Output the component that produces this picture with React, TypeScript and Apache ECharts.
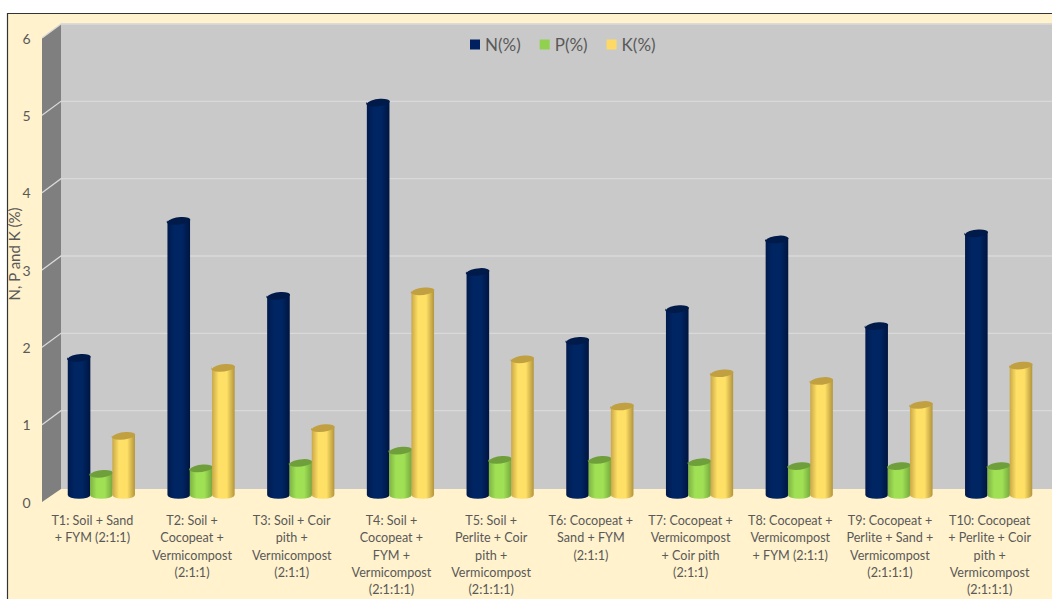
import React, { useEffect, useRef } from "react";
import * as echarts from "echarts";

const categories = [
  "T1: Soil + Sand\n+ FYM (2:1:1)",
  "T2: Soil +\nCocopeat +\nVermicompost\n(2:1:1)",
  "T3: Soil + Coir\npith +\nVermicompost\n(2:1:1)",
  "T4: Soil +\nCocopeat +\nFYM +\nVermicompost\n(2:1:1:1)",
  "T5: Soil +\nPerlite + Coir\npith +\nVermicompost\n(2:1:1:1)",
  "T6: Cocopeat +\nSand + FYM\n(2:1:1)",
  "T7: Cocopeat +\nVermicompost\n+ Coir pith\n(2:1:1)",
  "T8: Cocopeat +\nVermicompost\n+ FYM (2:1:1)",
  "T9: Cocopeat +\nPerlite + Sand +\nVermicompost\n(2:1:1:1)",
  "T10: Cocopeat\n+ Perlite + Coir\npith +\nVermicompost\n(2:1:1:1)",
];
const nValues = [1.78, 3.55, 2.58, 5.08, 2.89, 2.0, 2.41, 3.31, 2.19, 3.39];
const pValues = [0.28, 0.35, 0.42, 0.58, 0.46, 0.46, 0.43, 0.38, 0.38, 0.38];
const kValues = [0.77, 1.65, 0.87, 2.64, 1.76, 1.15, 1.58, 1.48, 1.17, 1.68];
const yTicks = [0, 1, 2, 3, 4, 5, 6];

const TEXT = "#595959";
const FONT = "Lato";
const BG = "#FFF2CC";
const DEPTH_X = 19;
const DEPTH_Y = 14;
const FRONT_X = 42;
const BAR_W = 22.6;

type Tone = { edgeL: string; mid: string; edgeR: string; top: string; legend: string };
const tones: Tone[] = [
  { edgeL: "#001a4d", mid: "#002563", edgeR: "#001540", top: "#001a4a", legend: "#002060" },
  { edgeL: "#7fb343", mid: "#a0e055", edgeR: "#76a83e", top: "#6f9f3a", legend: "#92D050" },
  { edgeL: "#c9a847", mid: "#ffe066", edgeR: "#b3953c", top: "#c0a040", legend: "#FFD966" },
];

function cylinder(tone: Tone, offset: number) {
  return (params: any, api: any) => {
    const idx = api.value(0);
    const val = api.value(1);
    const top = api.coord([idx, val]);
    const base = api.coord([idx, 0]);
    const cx = top[0] + offset * 22.3;
    const x0 = cx - BAR_W / 2;
    const x1 = cx + BAR_W / 2;
    const yT = top[1] - DEPTH_Y / 2;
    const yB = base[1] - DEPTH_Y / 2;
    const t = 1.3;
    const rx = BAR_W / 2;
    const ry = 3.8;
    const fill = new echarts.graphic.LinearGradient(0, 0, 1, 0, [
      { offset: 0, color: tone.edgeL },
      { offset: 0.3, color: tone.mid },
      { offset: 0.65, color: tone.mid },
      { offset: 1, color: tone.edgeR },
    ]);
    const ell = (y: number) =>
      `M${x0} ${y + t}A${rx} ${ry} -7 0 1 ${x1} ${y - t}A${rx} ${ry} -7 0 1 ${x0} ${y + t}Z`;
    const body = `M${x0} ${yT + t}L${x0} ${yB}A${rx} ${ry} 0 0 0 ${x1} ${yB}L${x1} ${yT - t}Z`;
    return {
      type: "group",
      children: [
        { type: "path", shape: { pathData: body, layout: "cover", x: x0, y: yT - t, width: BAR_W, height: yB + ry - yT + t }, style: { fill } },
        { type: "path", shape: { pathData: ell(yT) }, style: { fill: tone.top } },
      ],
    };
  };
}

function gridlines(params: any, api: any) {
  const v = api.value(0);
  const y = api.coord([0, v])[1];
  const size = api.getWidth();
  if (v === 0) return null;
  return {
    type: "polyline",
    shape: {
      points: [
        [FRONT_X, y],
        [FRONT_X + DEPTH_X, y - DEPTH_Y],
        [size, y - DEPTH_Y],
      ],
    },
    style: { fill: "none", stroke: "#D9D9D9", lineWidth: 1.3 },
  };
}

export default function App() {
  const ref = useRef<HTMLDivElement>(null);
  useEffect(() => {
    const chart = echarts.init(ref.current!, undefined, { renderer: "svg" });
    const series: any[] = [
      { name: "grid", type: "custom", renderItem: gridlines, data: yTicks.map((v) => [v]), encode: { y: 0 }, silent: true, z: 1 },
    ];
    [
      { name: "N(%)", values: nValues, offset: -1 },
      { name: "P(%)", values: pValues, offset: 0 },
      { name: "K(%)", values: kValues, offset: 1 },
    ].forEach((s, i) => {
      series.push({
        name: s.name,
        type: "custom",
        renderItem: cylinder(tones[i], s.offset),
        itemStyle: { color: tones[i].legend },
        data: s.values.map((v, k) => [k, v]),
        encode: { x: 0, y: 1 },
        z: 3 + i,
      });
    });
    chart.setOption({
      animation: false,
      backgroundColor: "#ffffff",
      textStyle: { fontFamily: FONT },
      grid: { left: 51.5, right: 3.5, top: 38, bottom: 97, outerBoundsMode: "none", containLabel: false },
      legend: {
        data: ["N(%)", "P(%)", "K(%)"],
        top: 31,
        left: 465,
        icon: "rect",
        itemWidth: 10,
        itemHeight: 10,
        itemGap: 19,
        textStyle: { color: TEXT, fontSize: 17, fontFamily: FONT },
        selectedMode: false,
      },
      xAxis: {
        type: "category",
        data: categories,
        axisLine: { show: false },
        axisTick: { show: false },
        axisLabel: { color: TEXT, fontSize: 12.6, fontFamily: FONT, lineHeight: 17.3, margin: 10, interval: 0, hideOverlap: false, padding: [0, 18, 0, 0] },
      },
      yAxis: {
        type: "value",
        min: 0,
        max: 6,
        interval: 1,
        axisLine: { show: false },
        axisTick: { show: false },
        splitLine: { show: false },
        axisLabel: { color: TEXT, fontSize: 14, fontFamily: FONT, margin: 21 },
        name: "N, P and K (%)",
        nameLocation: "middle",
        nameGap: 30,
        nameMoveOverlap: false,
        nameTextStyle: { color: TEXT, fontSize: 15, fontFamily: FONT, padding: [0, 0, 0, 32] },
      },
      graphic: [
        { type: "rect", z: -10, shape: { x: 7.5, y: 13.5, width: 1060, height: 600 }, style: { fill: BG, stroke: "#333333", lineWidth: 1.2 } },
        { type: "rect", z: -9, shape: { x: 61, y: 24, width: 1000, height: 465 }, style: { fill: "#C9C9C9" } },
        { type: "polygon", z: -9, shape: { points: [[42, 38], [61, 24], [61, 489], [42, 502]] }, style: { fill: "#7F7F7F" } },
        { type: "line", z: -8, shape: { x1: 61, y1: 24, x2: 1052, y2: 24 }, style: { stroke: "#D0D0D0", lineWidth: 1 } },
      ],
      series,
    });
    return () => chart.dispose();
  }, []);
  return <div ref={ref} style={{ position: "fixed", left: 0, top: 0, width: 1052, height: 599 }} />;
}
